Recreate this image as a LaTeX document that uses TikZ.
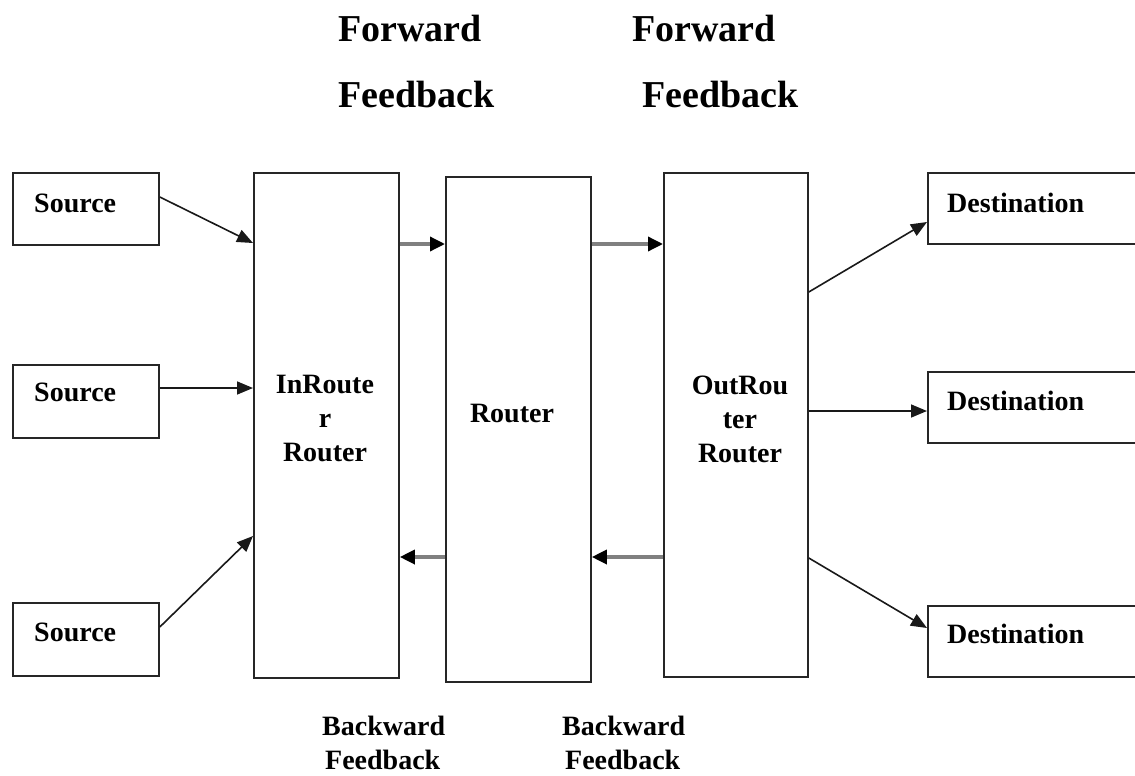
\documentclass[tikz,border=0pt]{standalone}
\usepackage{fontspec}
\setmainfont{Liberation Serif}
\usetikzlibrary{arrows.meta,calc}

\tikzset{
  box/.style={draw=black!85, line width=1.8pt, rectangle, minimum width=#1, inner sep=0pt},
  lbl/.style={font=\bfseries\fontsize{28}{34}\selectfont, inner sep=0pt},
  big/.style={font=\bfseries\fontsize{38}{44}\selectfont, inner sep=0pt, anchor=base west},
  thin/.style={draw=black!90, line width=1.6pt, -{Triangle[length=16pt,width=13pt]}},
  thick/.style={draw=black!50, line width=3.4pt, -{Triangle[length=15pt,width=14pt,color=black]}}
}

\begin{document}
\begin{tikzpicture}[x=1pt,y=-1pt]
\useasboundingbox (0,0) rectangle (1135,776);

% source boxes
\node[box=146pt, minimum height=72pt, anchor=north west] (s1) at (12,172) {};
\node[box=146pt, minimum height=73pt, anchor=north west] (s2) at (12,364) {};
\node[box=146pt, minimum height=73pt, anchor=north west] (s3) at (12,602) {};
\node[lbl, anchor=base west] (s1t) at ($(s1.north west)+(22,40)$) {Source};
\node[lbl, anchor=base west] (s2t) at ($(s2.north west)+(22,37)$) {Source};
\node[lbl, anchor=base west] (s3t) at ($(s3.north west)+(22,39)$) {Source};

% router columns
\node[box=145pt, minimum height=505pt, anchor=north west] (inr) at (253,172) {};
\node[box=145pt, minimum height=505pt, anchor=north west] (rt) at (445,176) {};
\node[box=144pt, minimum height=504pt, anchor=north west] (outr) at (663,172) {};
\node[lbl, align=center] (inrt) at (325,418) {InRoute\\r\\Router};
\node[lbl, align=center] (rtt) at (512,413) {Router};
\node[lbl, align=center] (outrt) at (740,419) {OutRou\\ter\\Router};

% destination boxes (open on the right edge)
\node[box=215pt, minimum height=71pt, anchor=north west] (d1) at (927,172) {};
\node[box=215pt, minimum height=71pt, anchor=north west] (d2) at (927,371) {};
\node[box=215pt, minimum height=71pt, anchor=north west] (d3) at (927,605) {};
\node[lbl, anchor=base west] (d1t) at ($(d1.north west)+(20,40)$) {Destination};
\node[lbl, anchor=base west] (d2t) at ($(d2.north west)+(20,39)$) {Destination};
\node[lbl, anchor=base west] (d3t) at ($(d3.north west)+(20,38)$) {Destination};

% sources into the in-router
\draw[thin] ($(s1.north east)+(0,25)$) -- ($(inr.north west)+(0,71)$);
\draw[thin] ($(s2.north east)+(0,24)$) -- ($(inr.north west)+(0,216)$);
\draw[thin] ($(s3.north east)+(0,25)$) -- ($(inr.north west)+(0,364)$);

% forward links
\draw[thick] ($(inr.north east)+(0,72)$) -- ($(rt.north west)+(0,68)$);
\draw[thick] ($(rt.north east)+(0,68)$) -- ($(outr.north west)+(0,72)$);

% backward links
\draw[thick] ($(rt.north west)+(0,381)$) -- ($(inr.north east)+(0,385)$);
\draw[thick] ($(outr.north west)+(0,385)$) -- ($(rt.north east)+(0,381)$);

% out-router to destinations
\draw[thin] ($(outr.north east)+(0,120)$) -- ($(d1.north west)+(0,50)$);
\draw[thin] ($(outr.north east)+(0,239)$) -- ($(d2.north west)+(0,40)$);
\draw[thin] ($(outr.north east)+(0,386)$) -- ($(d3.north west)+(0,23)$);

% feedback captions
\node[big] (ff1a) at (338,42) {Forward};
\node[big] (ff1b) at (338,107) {Feedback};
\node[big] (ff2a) at (632,42) {Forward};
\node[big] (ff2b) at (642,107) {Feedback};
\node[lbl, anchor=base west] (bf1a) at (322,735) {Backward};
\node[lbl, anchor=base west] (bf1b) at (325,769) {Feedback};
\node[lbl, anchor=base west] (bf2a) at (562,735) {Backward};
\node[lbl, anchor=base west] (bf2b) at (565,769) {Feedback};
\end{tikzpicture}
\end{document}
